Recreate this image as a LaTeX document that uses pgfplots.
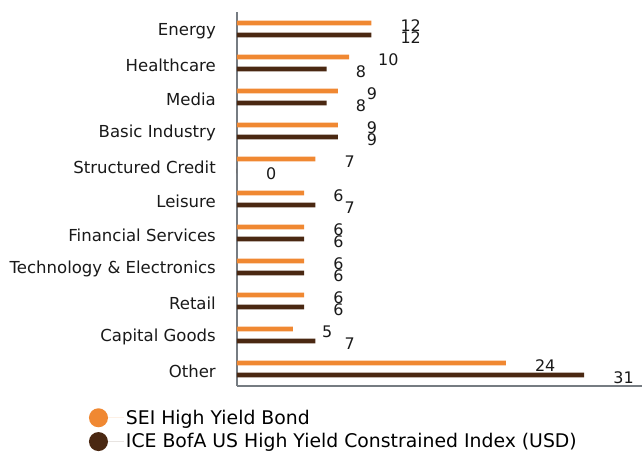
\documentclass[border=0pt]{standalone}
\usepackage{fontspec}
\setmainfont{DejaVu Sans}
\usepackage{pgfplots}
\pgfplotsset{compat=1.18}
\definecolor{sorange}{RGB}{240,136,50}
\definecolor{sbrown}{RGB}{74,40,18}
\definecolor{axgray}{RGB}{118,124,130}
\begin{document}
\begin{tikzpicture}
\begin{axis}[
  name=ax,
  scale only axis,
  width=405bp, height=374bp,
  xmin=0, xmax=36.16,
  ymin=-0.5, ymax=10.5,
  axis x line*=bottom,
  axis y line*=left,
  axis line style={axgray, line width=1.4bp},
  xtick=\empty,
  ytick={0,1,2,3,4,5,6,7,8,9,10},
  yticklabels={Other,Capital Goods,Retail,Technology \& Electronics,Financial Services,Leisure,Structured Credit,Basic Industry,Media,Healthcare,Energy},
  major tick length=0pt,
  yticklabel style={font=\fontsize{16.6}{19}\selectfont, text=black!90, inner sep=0pt, anchor=east, xshift=-21bp, yshift=-2bp},
  /pgf/number format/assume math mode=true,
  xbar,
  bar width=4.7bp,
  point meta=x,
  nodes near coords,
  nodes near coords align=horizontal,
  every node near coord/.append style={font=\fontsize{16}{18}\selectfont, text=black!90, anchor=west, inner sep=0pt, xshift=29bp, yshift=-3bp},
  legend style={at={(axis description cs:-0.366,-0.058)}, anchor=north west, draw=none, fill=none, inner sep=0pt, row sep=4bp, font=\fontsize{18.9}{21}\selectfont, cells={anchor=west}},
  clip=false,
]
\addplot[draw=none, fill=sorange, bar shift=6bp,
  legend image code/.code={\fill[sorange] (9.5bp,0bp) circle (9.5bp); \path (0bp,0bp) -- (35bp,0bp);}]
  coordinates {(12,10) (10,9) (9,8) (9,7) (7,6) (6,5) (6,4) (6,3) (6,2) (5,1) (24,0)};
\addlegendentry{SEI High Yield Bond}
\addplot[draw=none, fill=sbrown, bar shift=-6bp,
  legend image code/.code={\fill[sbrown] (9.5bp,0bp) circle (9.5bp); \path (0bp,0bp) -- (35bp,0bp);}]
  coordinates {(12,10) (8,9) (8,8) (9,7) (0,6) (7,5) (6,4) (6,3) (6,2) (7,1) (31,0)};
\addlegendentry{ICE BofA US High Yield Constrained Index (USD)}
\end{axis}
\path (ax.south west) ++(-237bp,-68bp) rectangle ++(644bp,454bp);
\end{tikzpicture}
\end{document}
